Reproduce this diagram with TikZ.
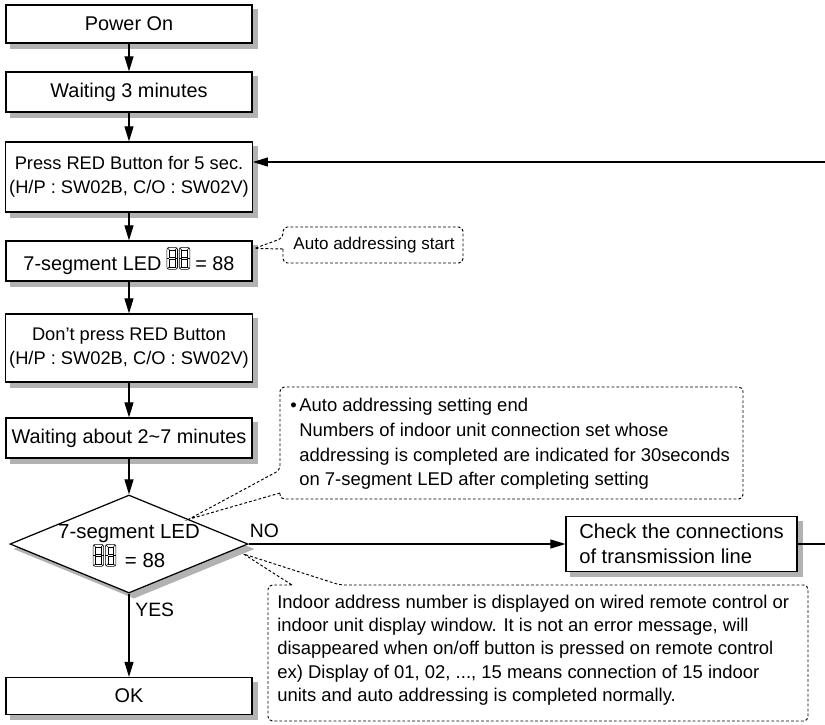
\documentclass[tikz,border=0pt]{standalone}
\usepackage{fontspec}
\setmainfont{Liberation Sans}
\usetikzlibrary{arrows.meta,shapes.geometric,calc}

% small two-digit 7-segment symbol
\newcommand{\segled}{%
  \tikz[baseline=-0.8pt, x=1pt, y=1pt, line width=0.3pt, sharp corners, solid]{%
    \foreach \dx in {0,7}{%
      \draw[rounded corners=1.2pt] (\dx,0) rectangle ++(6,12.5);
      \draw (\dx+1.4,1.4) rectangle ++(3.2,4.2);
      \draw (\dx+1.4,6.9) rectangle ++(3.2,4.2);
      \draw (\dx,6.25) -- ++(1.4,0) (\dx+4.6,6.25) -- ++(1.4,0);
      \draw (\dx+0.4,0.4) -- (\dx+1.4,1.4) (\dx+5.6,0.4) -- (\dx+4.6,1.4);
      \draw (\dx+0.4,12.1) -- (\dx+1.4,11.1) (\dx+5.6,12.1) -- (\dx+4.6,11.1);
    }}}

\begin{document}
\begin{tikzpicture}[
  x=0.02cm, y=-0.02cm,
  font=\fontsize{11.3}{13.5}\selectfont,
  shade/.style={preaction={fill=black!30, draw=black!30,
                           transform canvas={xshift=0.1cm, yshift=-0.1cm}}},
  box/.style={shade, draw, line width=0.7pt, minimum width=4.92cm, minimum height=0.8cm,
              align=center, fill=white, inner sep=2pt},
  dbox/.style={box, font=\fontsize{10.4}{13.6}\selectfont},
  dmd/.style={shade, diamond, draw, line width=0.7pt, fill=white, inner sep=0pt,
              minimum width=4.76cm, minimum height=1.96cm},
  arr/.style={-{Triangle[length=3mm,width=1.8mm]}, line width=0.6pt},
  notebox/.style={draw, dash pattern=on 1.6pt off 1.2pt, line width=0.55pt},
  notetxt/.style={inner sep=0pt, align=left, font=\fontsize{10.5}{14}\selectfont},
  lbl/.style={font=\fontsize{11}{13}\selectfont},
]
\useasboundingbox (0,0) rectangle (825,724);
\clip (0,0) rectangle (825,724);

% ---- main column ----
\node[box, minimum height=0.76cm] (pwr)   at (129,24)  {Power On};
\node[box]                        (wait)  at (129,92)  {Waiting 3 minutes};
\node[dbox, minimum height=1.4cm] (press) at (129,177)
  {Press RED Button for 5 sec.\\(H/P : SW02B, C/O : SW02V)};
\node[box]                        (led)   at (129,261)
  {7-segment LED\hspace{3pt}\segled\hspace{3pt}= 88};
\node[dbox, minimum height=1.36cm] (dont) at (129,348)
  {Don't press RED Button\\(H/P : SW02B, C/O : SW02V)};
\node[box]                        (waitb) at (129,438) {Waiting about 2\textasciitilde7 minutes};
\node[dmd]                        (dec)   at (129,544) {};
\node[font=\fontsize{11.6}{15.3}\selectfont, align=center, inner sep=0pt] (dectxt) at (129,546)
  {7-segment LED\\\segled\hspace{5pt}= 88};
\node[box, minimum height=0.74cm] (ok)    at (129,696) {OK};

% ---- check branch ----
\node[box, minimum width=4.62cm, minimum height=1.1cm, align=left,
      font=\fontsize{11.5}{14.2}\selectfont] (chk) at (681.5,544)
  {Check the connections\\of transmission line};

% arrows down the column
\foreach \a/\b in {pwr/wait, wait/press, press/led, led/dont, dont/waitb, waitb/dec}
  \draw[arr] (\a) -- (\b);
\draw[arr] (dec.south) -- node[lbl, pos=0.19, right] (yes) {YES} (ok.north);
\draw[arr] (dec.east) -- node[lbl, pos=0.05, above] (no) {NO} (chk.west);

% loop back to the RED button step
\coordinate (rt) at (845,162);
\draw[arr] (chk.east) -- (chk.east -| rt) -- (rt) -- (rt -| press.east);

% ---- notes ----
\node[notetxt, font=\fontsize{9.7}{12}\selectfont] (n1) at (374,245) {Auto addressing start};
\draw[notebox] (283,249) [rounded corners=2.5pt] -- (283,263) -- (463,263) -- (463,227)
  -- (283,227) -- (283,238) [sharp corners] -- ($(led.north east)+(2,8)$) -- cycle;

\node[notetxt, anchor=west] (n2) at (299,444)
  {\llap{\textbullet\hspace{1.5pt}}Auto addressing setting end\\
   Numbers of indoor unit connection set whose\\
   addressing is completed are indicated for 30seconds\\
   on 7-segment LED after completing setting};
\draw[notebox] (280,493) [rounded corners=2.5pt] -- (280,499) -- (743,499) -- (743,387)
  -- (280,387) -- (280,470) [sharp corners] -- (dec.north east) -- cycle;

\node[notetxt, anchor=west, font=\fontsize{10.5}{13.3}\selectfont] (n3) at (277,650)
  {Indoor address number is displayed on wired remote control or\\
   indoor unit display window. It is not an error message, will\\
   disappeared when on/off button is pressed on remote control\\
   ex) Display of 01, 02, ..., 15 means connection of 15 indoor\\
   units and auto addressing is completed normally.};
\draw[notebox] (292,585) [rounded corners=2.5pt] -- (268,585) -- (268,721) -- (808,721)
  -- (808,585) -- (340,585) [sharp corners] -- ($(dec.east)+(-5,10)$) -- cycle;
\end{tikzpicture}
\end{document}
